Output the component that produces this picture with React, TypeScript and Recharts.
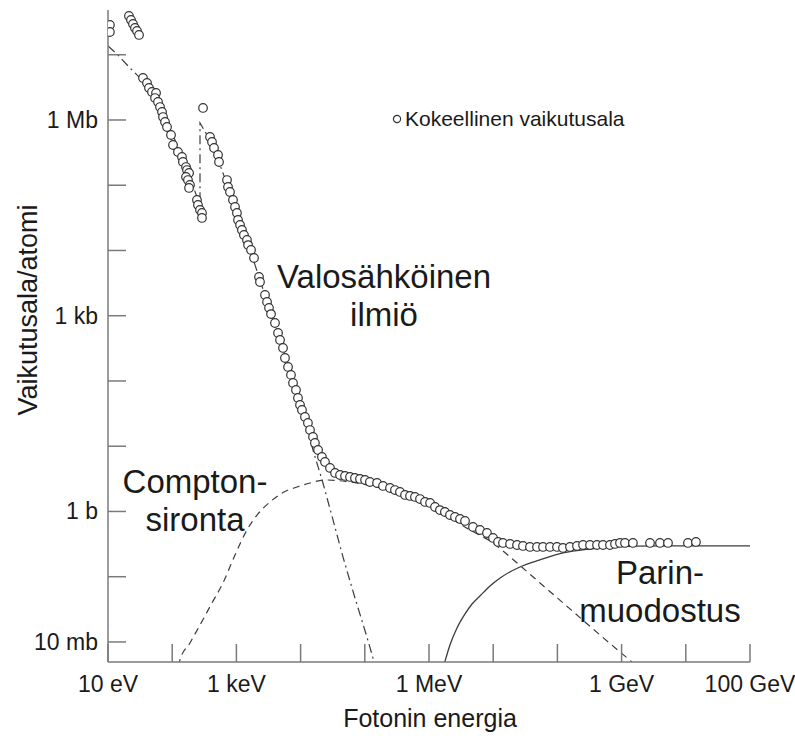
import React from 'react';
import { ComposedChart, Line, Scatter, XAxis, YAxis } from 'recharts';

const FONT = '"Liberation Sans", Arial, Helvetica, sans-serif';
const FRAME = '#7a7a7a';
const INK = '#3c3c3c';

// plot frame in pixels (used for the inward tick marks)
const PLOT = { left: 108, right: 750, top: 10, bottom: 662 };
const TICK = 18;

// experimental cross-section, energy in eV, sigma in barn
const expEnergy = [
  10.7, 10.7, 21.2, 22.8, 24.5, 26.3, 28.3, 30.4,
  35.1, 40.5, 43.5, 48.4, 56.0, 54.0, 60.1, 64.6, 69.4, 71.9, 77.3, 83.0, 95.8, 103, 123, 142, 147,
  164, 170, 183, 164, 176, 189, 183, 243, 252, 271, 291, 291,
  302,
  388, 417, 448, 517, 536, 714, 740, 794, 885, 951, 1020, 1060, 1140, 1220, 1310, 1460, 1520, 1690, 1880,
  2250, 2330, 2790, 3000, 3220, 3460, 3990, 4450, 4780, 5320, 5710, 6370, 7080, 7620, 8470, 9100, 9790,
  1.05e4, 1.17e4, 1.3e4, 1.4e4, 1.56e4, 1.67e4, 1.87e4, 2.15e4, 2.4e4, 2.87e4, 3.44e4, 4.11e4, 4.92e4,
  5.88e4, 7.03e4, 8.41e4, 1.01e5, 1.2e5, 1.55e5, 1.92e5, 2.47e5, 2.95e5, 3.53e5, 4.23e5, 5.06e5, 6.05e5,
  7.24e5, 8.67e5, 1.04e6, 1.24e6, 1.48e6, 1.77e6, 2.12e6, 2.54e6, 3.04e6, 3.64e6, 4.84e6, 6.22e6, 8.0e6,
  9.93e6, 1.19e7, 1.42e7, 1.83e7, 2.35e7, 2.91e7, 3.74e7, 4.81e7, 5.97e7, 7.67e7, 9.86e7, 1.22e8, 1.57e8,
  2.02e8, 2.51e8, 3.22e8, 4.14e8, 5.13e8, 6.59e8, 7.89e8, 9.44e8, 1.13e9, 1.5e9, 2.77e9, 3.96e9, 5.28e9,
  1.08e10, 1.44e10,
];
const expSigma = [
  2.86e7, 2.23e7, 3.93e7, 3.41e7, 2.96e7, 2.57e7, 2.31e7, 2.01e7,
  4.41e6, 3.69e6, 3.09e6, 2.69e6, 2.59e6, 2.17e6, 1.89e6, 1.58e6, 1.33e6, 1.11e6, 9.31e5, 7.81e5, 5.89e5, 4.14e5, 3.23e5, 2.71e5, 2.27e5,
  1.9e5, 1.71e5, 1.54e5, 1.34e5, 1.2e5, 1.01e5, 9.08e4, 5.94e4, 4.98e4, 4.18e4, 3.76e4, 3.15e4,
  1.53e6,
  5.49e5, 4.6e5, 3.72e5, 2.91e5, 2.27e5, 1.2e5, 9.4e4, 7.88e4, 5.94e4, 4.64e4, 3.76e4, 2.93e4, 2.46e4, 2.06e4, 1.73e4, 1.45e4, 1.21e4, 1.02e4, 7670,
  3930, 3290, 2080, 1630, 1320, 1060, 774, 545, 425, 321, 225, 164, 124, 93.1, 72.8, 54.8, 42.9,
  35.9, 28.1, 22.7, 17.7, 13.9, 11.2, 8.75, 6.84, 5.74, 4.65, 3.89, 3.62, 3.5,
  3.38, 3.26, 3.15, 3.04, 2.83, 2.73, 2.46, 2.29, 2.13, 1.99, 1.79, 1.73, 1.67,
  1.55, 1.4, 1.35, 1.17, 1.05, 0.982, 0.883, 0.824, 0.767, 0.715, 0.578, 0.52, 0.468,
  0.393, 0.341, 0.329, 0.318, 0.306, 0.296, 0.286, 0.286, 0.286, 0.286, 0.286, 0.276, 0.286,
  0.296, 0.306, 0.306, 0.306, 0.306, 0.306, 0.318, 0.329, 0.329, 0.329, 0.329, 0.329, 0.329,
  0.329, 0.341,
];

// photoelectric effect (dash-dot), with the K edge
const photoEnergy = [
  10, 14.3, 20.5, 31.5, 45.1, 64.6, 92.5, 132, 189, 271, 271, 388, 556, 794, 1140, 1630, 2330, 3340,
  4780, 6840, 9790, 15600, 22300, 32000, 45700, 70300, 1.08e5, 1.44e5,
];
const photoSigma = [
  1.36e7, 9.91e6, 6.73e6, 4.41e6, 2.69e6, 1.53e6, 7.54e5, 3.23e5, 1.29e5, 4.98e4, 9.0e5, 4.93e5, 2.04e5,
  7.88e4, 2.74e4, 1.02e4, 3530, 1220, 425, 147, 47.6, 8.75, 2.73, 0.741, 0.201, 0.0472, 0.0119, 0.00444,
];

// Compton scattering (dashed)
const comptonEnergy = [
  126, 132, 189, 271, 417, 618, 951, 1460, 2170, 3340, 5510, 8790, 14000, 24000, 58800, 1.72e5, 5.06e5,
  1.48e6, 4.35e6, 9.93e6, 1.83e7, 5.36e7, 1.57e8, 4.61e8, 1.45e9,
];
const comptonSigma = [
  0.00428, 0.0053, 0.00966, 0.0182, 0.0396, 0.0802, 0.215, 0.52, 0.916, 1.4, 1.99, 2.37, 2.73, 3.04, 2.83,
  2.29, 1.61, 0.982, 0.52, 0.329, 0.201, 0.0802, 0.0321, 0.0128, 0.00493,
];

// pair production (solid)
const pairEnergy = [
  1.71e6, 2.12e6, 2.73e6, 3.64e6, 4.68e6, 6.22e6, 8.91e6, 1.28e7, 2.61e7, 5.36e7, 1.22e8, 3.22e8, 7.35e8,
  3.96e9, 1e11,
];
const pairSigma = [
  0.00444, 0.009, 0.0164, 0.0269, 0.0382, 0.0507, 0.0721, 0.0957, 0.141, 0.181, 0.231, 0.266, 0.286,
  0.296, 0.296,
];

const xTicks = [10, 100, 1e3, 1e4, 1e5, 1e6, 1e7, 1e8, 1e9, 1e10, 1e11];
const xTickLabels = ['10 eV', '', '1 keV', '', '', '1 MeV', '', '', '1 GeV', '', '100 GeV'];
const yTicks = [0.01, 0.1, 1, 10, 100, 1e3, 1e4, 1e5, 1e6, 1e7];
const yTickLabels = ['10 mb', '', '1 b', '', '', '1 kb', '', '', '1 Mb', ''];

const X_DOMAIN = [10, 1e11];
const Y_DOMAIN = [0.00493, 4.85e7];

const zip = (es: number[], ss: number[]) => es.map((e, i) => ({ e, s: ss[i] }));
const expData = zip(expEnergy, expSigma);
const photoData = zip(photoEnergy, photoSigma);
const comptonData = zip(comptonEnergy, comptonSigma);
const pairData = zip(pairEnergy, pairSigma);

const tickText = { fontFamily: FONT, fontSize: 23, fill: '#1a1a1a' };

const BottomTick = (props: any) => {
  const { x, payload } = props;
  const label = xTickLabels[xTicks.indexOf(payload.value)];
  return (
    <g>
      <line x1={x} x2={x} y1={PLOT.bottom} y2={PLOT.bottom - TICK} stroke={FRAME} strokeWidth={1.5} />
      {label ? (
        <text x={x} y={PLOT.bottom + 22} textAnchor="middle" dominantBaseline="central" {...tickText}>
          {label}
        </text>
      ) : null}
    </g>
  );
};

const TopTick = (props: any) => {
  const { x } = props;
  return <line x1={x} x2={x} y1={PLOT.top} y2={PLOT.top + TICK} stroke={FRAME} strokeWidth={1.5} />;
};

const LeftTick = (props: any) => {
  const { y, payload } = props;
  const label = yTickLabels[yTicks.indexOf(payload.value)];
  return (
    <g>
      <line x1={PLOT.left} x2={PLOT.left + TICK} y1={y} y2={y} stroke={FRAME} strokeWidth={1.5} />
      {label ? (
        <text x={PLOT.left - 10} y={y} textAnchor="end" dominantBaseline="central" {...tickText}>
          {label}
        </text>
      ) : null}
    </g>
  );
};

const RightTick = (props: any) => {
  const { y } = props;
  return <line x1={PLOT.right} x2={PLOT.right - TICK} y1={y} y2={y} stroke={FRAME} strokeWidth={1.5} />;
};

const OpenCircle = (props: any) => (
  <circle cx={props.cx} cy={props.cy} r={4.3} fill="#fff" stroke="#333" strokeWidth={1.2} />
);

const frameLine = { stroke: FRAME, strokeWidth: 1.5 };

const note: React.CSSProperties = {
  position: 'absolute',
  fontSize: 33,
  lineHeight: '38px',
  textAlign: 'center',
  color: '#1a1a1a',
  whiteSpace: 'nowrap',
};

export default function App() {
  return (
    <div
      style={{
        position: 'absolute',
        left: 0,
        top: 0,
        width: 795,
        height: 736,
        background: '#fff',
        fontFamily: FONT,
      }}
    >
      <ComposedChart width={795} height={736} margin={{ top: 10, right: 45, bottom: 0, left: 8 }}>
        <XAxis
          dataKey="e"
          type="number"
          scale="log"
          domain={X_DOMAIN}
          allowDataOverflow
          ticks={xTicks}
          interval={0}
          tick={(p: any) => <BottomTick {...p} />}
          tickLine={false}
          axisLine={frameLine}
          height={74}
        />
        <XAxis
          xAxisId="top"
          orientation="top"
          dataKey="e"
          type="number"
          scale="log"
          domain={X_DOMAIN}
          allowDataOverflow
          ticks={xTicks}
          interval={0}
          tick={(p: any) => <TopTick {...p} />}
          tickLine={false}
          axisLine={frameLine}
          height={0}
        />
        <YAxis
          dataKey="s"
          type="number"
          scale="log"
          domain={Y_DOMAIN}
          allowDataOverflow
          ticks={yTicks}
          interval={0}
          tick={(p: any) => <LeftTick {...p} />}
          tickLine={false}
          axisLine={frameLine}
          width={100}
        />
        <YAxis
          yAxisId="right"
          orientation="right"
          dataKey="s"
          type="number"
          scale="log"
          domain={Y_DOMAIN}
          allowDataOverflow
          ticks={yTicks}
          interval={0}
          tick={(p: any) => <RightTick {...p} />}
          tickLine={false}
          axisLine={frameLine}
          width={0}
        />
        <Line
          data={photoData}
          dataKey="s"
          type="linear"
          stroke={INK}
          strokeWidth={1.2}
          strokeDasharray="9 4 2 4"
          dot={false}
          isAnimationActive={false}
        />
        <Line
          data={comptonData}
          dataKey="s"
          type="monotone"
          stroke={INK}
          strokeWidth={1.2}
          strokeDasharray="7 5"
          dot={false}
          isAnimationActive={false}
        />
        <Line
          data={pairData}
          dataKey="s"
          type="monotone"
          stroke={INK}
          strokeWidth={1.3}
          dot={false}
          isAnimationActive={false}
        />
        <Scatter data={expData} dataKey="s" shape={OpenCircle} isAnimationActive={false} />
      </ComposedChart>

      {/* legend */}
      <svg style={{ position: 'absolute', left: 392, top: 114 }} width={10} height={10}>
        <circle cx={5} cy={5} r={3.6} fill="#fff" stroke="#333" strokeWidth={1.2} />
      </svg>
      <div style={{ position: 'absolute', left: 405, top: 107, fontSize: 21, lineHeight: '24px', color: '#1a1a1a' }}>
        Kokeellinen vaikutusala
      </div>

      {/* curve annotations */}
      <div style={{ ...note, left: 234, width: 300, top: 258 }}>
        Valosähköinen
        <br />
        ilmiö
      </div>
      <div style={{ ...note, left: 95, width: 200, top: 463 }}>
        Compton-
        <br />
        sironta
      </div>
      <div style={{ ...note, left: 560, width: 200, top: 554 }}>
        Parin-
        <br />
        muodostus
      </div>

      {/* axis titles */}
      <div
        style={{
          position: 'absolute',
          left: 28,
          top: 310,
          transform: 'translate(-50%, -50%) rotate(-90deg)',
          fontSize: 27,
          whiteSpace: 'nowrap',
          color: '#1a1a1a',
        }}
      >
        Vaikutusala/atomi
      </div>
      <div
        style={{
          position: 'absolute',
          left: 430,
          top: 718,
          transform: 'translate(-50%, -50%)',
          fontSize: 25,
          whiteSpace: 'nowrap',
          color: '#1a1a1a',
        }}
      >
        Fotonin energia
      </div>
    </div>
  );
}
